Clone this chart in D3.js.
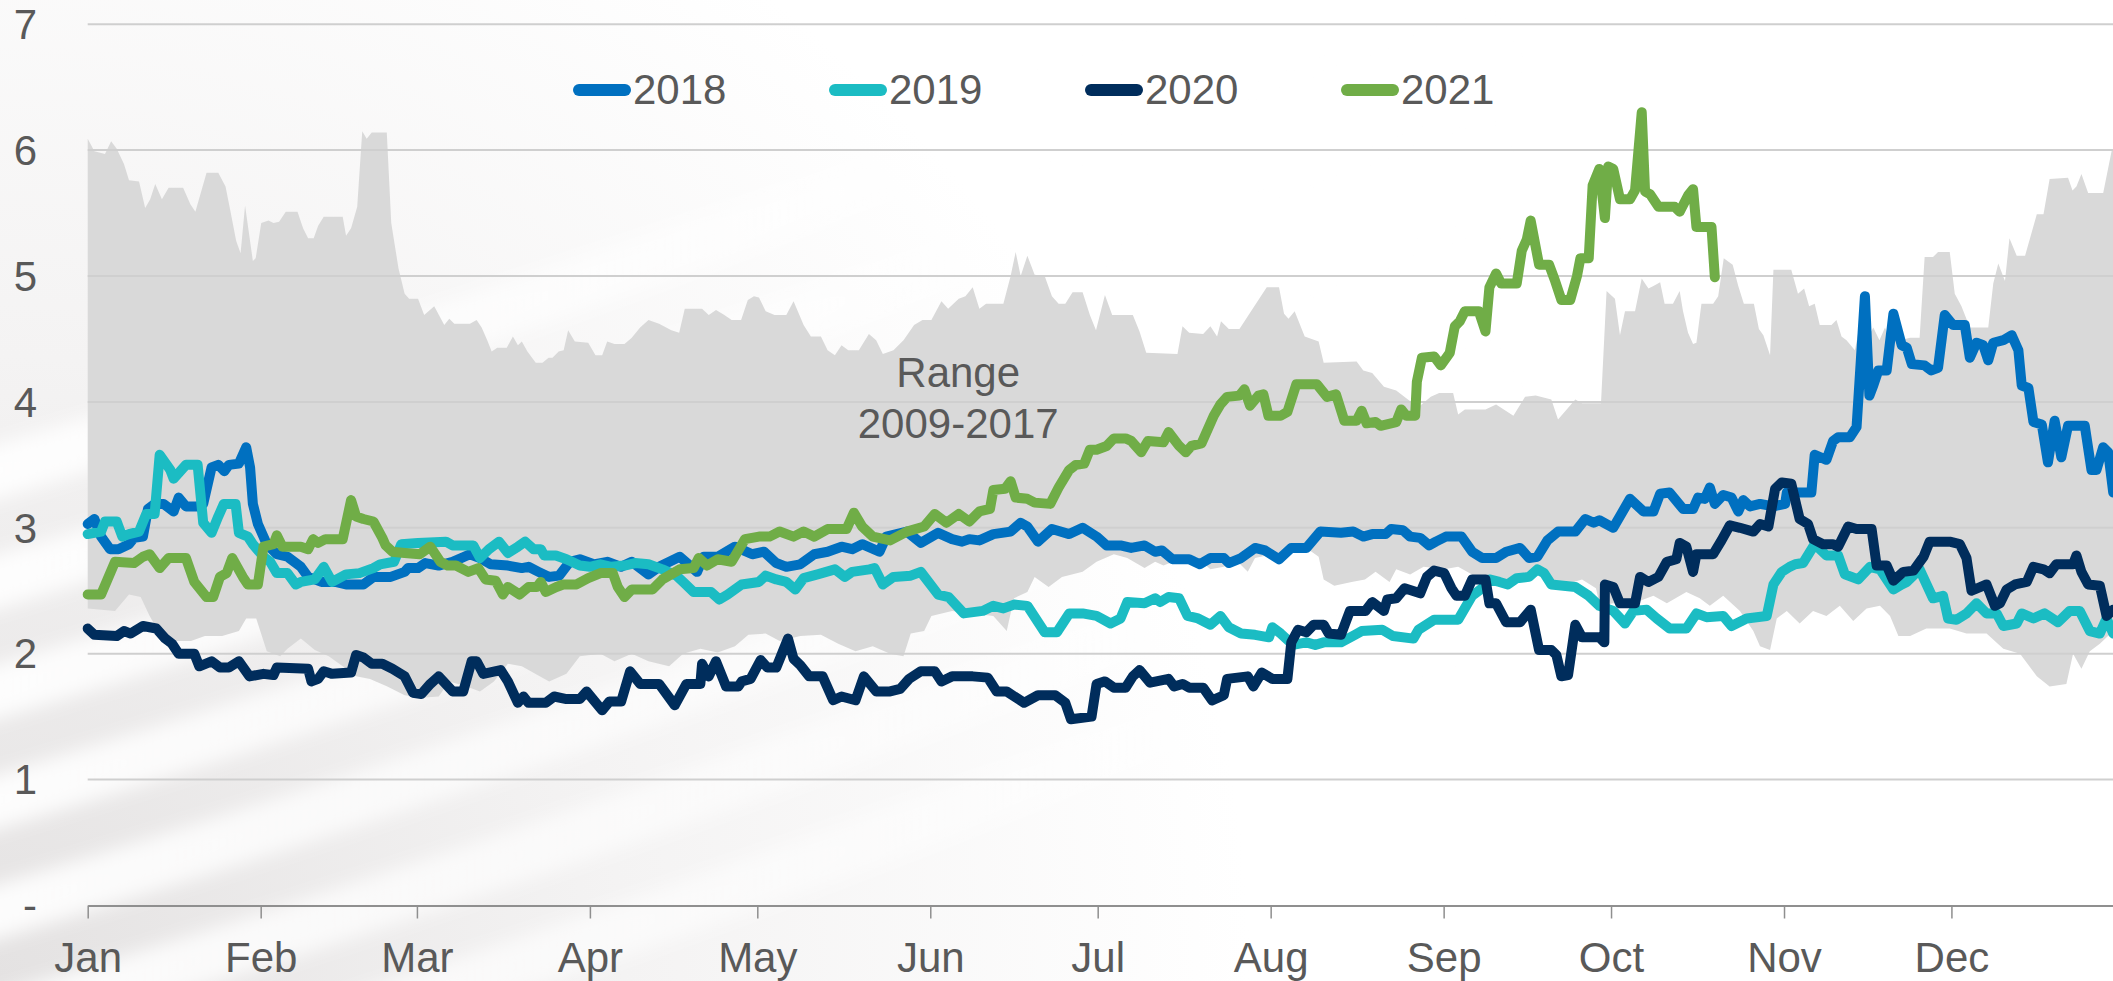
<!DOCTYPE html>
<html>
<head>
<meta charset="utf-8">
<script src="https://cdn.jsdelivr.net/npm/d3@7"></script>
<style>
  body { margin: 0; background: #fff; }
  svg { display: block; font-family: "Liberation Sans", Arial, sans-serif; }
  .tick text { fill: #595959; font-size: 42px; }
</style>
</head>
<body>
<div id="chart"></div>
<script>
// ---- data: [day of year, value] ----
const years = ["2018", "2019", "2020", "2021"];
const colors = ["#0070c0", "#1bbcc3", "#002d5c", "#70ad47"];
const yTickLabels = ["-", "1", "2", "3", "4", "5", "6", "7"];
const monthStarts = [0, 31, 59, 90, 120, 151, 181, 212, 243, 273, 304, 334];
const rangeLabel = ["Range", "2009-2017"];

const rangeHigh = [[0,6.09],[1.2,5.99],[3.1,5.97],[4.2,6.07],[5.2,6.01],[6.5,5.89],[7.4,5.76],[9.2,5.75],[10.3,5.54],[11.2,5.61],[12.1,5.73],[13.3,5.61],[14.5,5.70],[17.1,5.70],[18.4,5.57],[19.3,5.51],[21.3,5.82],[23.4,5.82],[24.7,5.71],[25.6,5.51],[26.6,5.28],[27.4,5.18],[28.2,5.56],[29.6,5.12],[30.1,5.14],[31.1,5.42],[32.4,5.44],[33.3,5.42],[34.3,5.43],[35.5,5.51],[37.6,5.51],[38.6,5.38],[39.5,5.30],[40.5,5.30],[41.3,5.40],[42.3,5.47],[45.7,5.47],[46.3,5.32],[47.2,5.38],[48.3,5.55],[49.2,6.15],[50.0,6.09],[50.9,6.14],[53.6,6.14],[54.4,5.42],[55.7,5.06],[56.8,4.86],[57.6,4.82],[59.2,4.82],[60.3,4.69],[62.1,4.76],[63.9,4.61],[64.8,4.66],[65.7,4.62],[68.5,4.62],[69.7,4.65],[70.6,4.59],[71.6,4.49],[72.4,4.40],[73.4,4.43],[75.1,4.43],[76.2,4.52],[77.1,4.45],[77.8,4.48],[78.8,4.40],[80.3,4.31],[81.5,4.31],[82.6,4.35],[83.3,4.35],[84.4,4.40],[85.3,4.41],[86.1,4.57],[87.3,4.48],
  [89.7,4.47],[91,4.37],[92.2,4.37],[93.1,4.48],[94.4,4.46],[96.2,4.46],[97.5,4.51],[99,4.59],[100.5,4.65],[102.4,4.62],[104.6,4.57],[106,4.55],[107,4.74],[110.1,4.74],[111.3,4.69],[112.6,4.73],[114.1,4.69],[115.4,4.65],[117.1,4.65],[118.3,4.81],[119.4,4.84],[120.3,4.83],[121.5,4.72],[123.1,4.69],[125.2,4.69],[126.5,4.80],[128.3,4.61],[129.6,4.52],[131.4,4.52],[132.6,4.41],[133.9,4.37],[135.1,4.45],[136.3,4.41],[138.2,4.41],[140,4.54],[141.3,4.49],[142.5,4.38],[144.4,4.41],[146.2,4.49],[148.1,4.61],[149.6,4.65],[151.2,4.65],[153,4.80],[154.2,4.74],[156.1,4.82],[157.3,4.84],[158.6,4.91],[159.8,4.74],[161,4.78],[164.1,4.78],[165.4,5.00],[166.3,5.19],[167.2,5.00],[168.4,5.16],[169.7,5.01],[171.5,5.00],[172.8,4.84],[174,4.78],[175.2,4.78],[176.5,4.87],[178.3,4.87],[179.6,4.69],[180.7,4.57],
  [182.3,4.85],[183.6,4.69],[187.3,4.69],[188.5,4.56],[189.7,4.39],[195.3,4.38],[196.2,4.60],[197.4,4.55],[199.9,4.54],[201.2,4.60],[202.4,4.52],[203.1,4.64],[204.5,4.58],[206.4,4.58],[207.9,4.68],[209.8,4.81],[211.3,4.91],[213.5,4.91],[214.4,4.70],[215.2,4.66],[216.3,4.72],[218.1,4.52],[220.6,4.48],[221.5,4.31],[227.4,4.32],[228.6,4.25],[230.2,4.23],[232.3,4.12],[234.5,4.09],[236.6,4.02],[238.5,3.96],[240.7,4.04],[242.2,4.07],[244.7,4.07],[245.6,3.90],[246.8,3.94],[250.5,3.94],[252.4,3.98],[255.5,3.89],[257.6,4.04],[259.5,4.05],[262.3,4.02],[263.5,3.86],[266.6,4.02],[267.8,3.99],[271.2,3.99],
  [272.2,4.88],[273.7,4.82],[274.6,4.53],[275.5,4.72],[277.3,4.72],[278.5,4.98],[279.7,4.90],[280.6,4.92],[281.8,4.95],[282.6,4.78],[284.1,4.78],[285.3,4.88],[285.9,4.72],[286.8,4.55],[287.7,4.46],[288.3,4.47],[289.2,4.78],[291.3,4.78],[292.2,4.84],[293.2,5.14],[294.8,5.09],[295.8,4.92],[296.8,4.78],[298.6,4.78],[299.5,4.58],[300.3,4.53],[301.5,4.37],[302.1,5.05],[305.3,5.05],[306.5,4.86],[307.6,4.90],[308.5,4.76],[309.5,4.78],[310.4,4.61],[312.5,4.61],[313.4,4.65],[314.3,4.52],[315.2,4.49],[316.7,4.41],[317.6,4.61],[318.8,4.49],[320,4.59],[321.1,4.49],[322.1,4.59],[323,4.49],[324.8,4.49],[326.6,4.51],[328.3,4.51],[329.2,5.15],[330.7,5.15],[331.6,5.19],[333.7,5.19],[334.6,4.86],[335.8,4.76],[337.3,4.59],[340.6,4.59],[341.5,4.94],[342.4,5.10],[343.6,4.96],[344.4,5.30],[345.7,5.16],[347.2,5.16],[349.3,5.49],[350.5,5.49],[351.6,5.77],[354.9,5.78],[355.7,5.68],[356.4,5.71],[357.3,5.81],[358.5,5.66],[361.2,5.66],[362.7,5.99],[364,6.05]];

const rangeLow = [[0,2.36],[4.9,2.34],[7.4,2.47],[9.5,2.45],[11.1,2.30],[12.9,2.16],[15.4,2.10],[18.5,2.10],[21,2.14],[24.1,2.14],[27.1,2.18],[28.4,2.28],[30.2,2.28],[32.1,2.02],[34.5,1.98],[35.8,2.04],[38.2,2.12],[40.7,2.03],[43.2,1.98],[45.7,1.90],[48.1,1.82],[50.6,1.80],[53.7,1.74],[56.8,1.67],[59.8,1.65],[62.9,1.66],[64.8,1.78],[67.9,1.74],[70.3,1.70],[72.8,1.78],[75.3,1.92],[77.8,1.90],[80.2,1.84],[82.7,1.78],[85.8,1.84],[88.2,1.98],
  [91.9,2.0],[94.4,1.94],[97.5,2.0],[100.5,1.94],[104.2,1.90],[106.7,2.0],[109.8,2.04],[112.9,2.01],[116,2.06],[118.4,2.15],[121.5,2.16],[124,2.10],[127.7,2.14],[131.4,2.15],[134.5,2.08],[137.6,2.02],[140.7,2.06],[143.8,2.0],[146.2,1.98],[147.5,2.16],[149.9,2.18],[151.2,2.30],[154.9,2.34],[158.6,2.32],[162.3,2.30],[164.7,2.18],[166,2.44],[168.4,2.49],[169.7,2.61],[172.2,2.53],[174.6,2.61],[178.3,2.65],[180.8,2.73],
  [183.9,2.79],[186.3,2.76],[189.4,2.68],[191.3,2.73],[192.8,2.70],[195.6,2.75],[198.7,2.77],[201.2,2.67],[203.6,2.69],[206.1,2.73],[207.9,2.65],[209.2,2.76],[212.3,2.79],[216,2.81],[218.4,2.84],[220.6,2.77],[221.5,2.59],[223.4,2.54],[226.5,2.57],[228.9,2.59],[230.8,2.65],[233.3,2.57],[234.5,2.67],[237,2.63],[239.4,2.69],[243.1,2.67],[245.6,2.69],[248.1,2.63],[249.9,2.57],[255.5,2.59],[259.2,2.65],[261.6,2.59],[264.1,2.54],[267.8,2.59],[270.3,2.52],
  [271,2.38],[273.4,2.40],[275.8,2.38],[278.2,2.42],[280.6,2.46],[283,2.40],[286.5,2.49],[288.9,2.44],[290.7,2.38],[293.1,2.46],[296.1,2.34],[298.5,2.18],[299.7,2.06],[301.5,2.03],[302.7,2.28],[304.5,2.34],[306.8,2.24],[309.2,2.34],[311.6,2.30],[314,2.38],[316.4,2.26],[318.8,2.36],[321.2,2.38],[323,2.30],[324.5,2.14],[326.6,2.14],[329.5,2.20],[333.7,2.20],[336.7,2.16],[340.3,2.16],[343.3,2.04],[346.3,2.0],[349.3,1.82],[351.6,1.74],[354.6,1.76],[355.8,2.0],[357.3,1.88],[358.8,2.02],[360.6,2.08],[363,2.18],[364,2.2]];

const s2018 = [[0,3.03],[1.2,3.07],[2.4,2.93],[4,2.83],[5.5,2.83],[7.4,2.87],[8.3,2.92],[9.9,2.93],[10.8,3.15],[12,3.19],[13.6,3.19],[15.4,3.13],[16.3,3.24],[17.6,3.17],[19.7,3.17],[20.7,3.19],[22.2,3.48],[23.4,3.50],[24.5,3.45],[25.3,3.50],[27.1,3.51],[28.4,3.64],[29.1,3.48],[29.6,3.19],[30.5,3.03],[32.1,2.87],[33.9,2.79],[35.8,2.77],[38.2,2.69],[39.5,2.61],[41.9,2.57],[44.4,2.57],[46.3,2.55],[49.4,2.55],[51.2,2.61],[54.3,2.61],[56.8,2.65],[57.4,2.68],[59.2,2.68],[60.5,2.72],[62.9,2.70],[65.4,2.73],[68.5,2.79],[70.3,2.76],[72.2,2.71],[75.3,2.70],[77.8,2.68],[79,2.69],[80.8,2.65],[82.7,2.61],[84.5,2.62],[86.4,2.73],[88.2,2.75],
  [90.7,2.71],[93.1,2.73],[95.6,2.69],[97.5,2.73],[100.5,2.63],[102.4,2.69],[106.1,2.77],[109.2,2.65],[110.4,2.77],[112.9,2.77],[116,2.85],[119.1,2.79],[121.2,2.81],[123.4,2.72],[125.2,2.69],[127.7,2.71],[130.2,2.79],[132.6,2.81],[135.1,2.85],[137,2.83],[138.8,2.87],[141.9,2.81],[143.1,2.93],[146.8,2.97],[149.3,2.88],[152.4,2.96],[154.9,2.91],[156.7,2.89],[158,2.91],[159.8,2.90],[162.3,2.95],[165.4,2.97],[167.2,3.04],[168.4,3.01],[170.3,2.89],[172.8,2.99],[175.9,2.95],[178.3,3.0],[180.8,2.93],
  [182.6,2.86],[185.1,2.86],[187,2.84],[189.4,2.86],[191.3,2.81],[192.5,2.82],[194.4,2.75],[197.4,2.75],[199.3,2.71],[201.2,2.76],[203.6,2.76],[204.5,2.72],[206.7,2.76],[209.2,2.84],[211,2.82],[213.5,2.75],[215.7,2.84],[218.4,2.84],[220.9,2.97],[224.6,2.96],[226.8,2.97],[228.6,2.93],[230.2,2.95],[232.6,2.95],[233.6,2.99],[235.7,2.98],[237,2.93],[238.8,2.92],[240.4,2.86],[241.6,2.89],[243.4,2.93],[246.2,2.93],[248.1,2.81],[249.9,2.76],[252.4,2.76],[254.2,2.81],[256.7,2.84],[258.3,2.76],[259.8,2.77],[261.6,2.90],[263.5,2.97],[266.6,2.97],[268.4,3.07],[269.9,3.04],[270.9,3.06],
  [273.4,3.0],[276.4,3.23],[278.8,3.13],[280.6,3.13],[281.8,3.27],[283.5,3.28],[285.9,3.15],[287.7,3.15],[288.6,3.24],[289.8,3.23],[290.7,3.32],[291.6,3.19],[293.1,3.26],[294.6,3.24],[295.8,3.13],[296.7,3.22],[297.9,3.17],[299.7,3.19],[302.1,3.17],[304.2,3.19],[304.5,3.28],[308.9,3.28],[309.5,3.58],[311.6,3.54],[312.8,3.69],[313.7,3.72],[315.8,3.72],[317,3.80],[318.5,4.84],[319.3,4.05],[320,4.13],[320.9,4.25],[322.4,4.25],[323.6,4.70],[325.1,4.45],[326,4.43],[326.9,4.30],[329.2,4.29],[330.4,4.25],[331.6,4.27],[332.8,4.69],[334.3,4.61],[336.4,4.61],[337.3,4.35],[338.5,4.47],[339.7,4.45],[340.6,4.33],[341.5,4.47],[343.3,4.49],[344.8,4.53],[346,4.41],[346.6,4.13],[347.8,4.11],[348.7,3.84],[350.2,3.82],[351.3,3.52],[352.5,3.85],[353.7,3.56],[354.9,3.81],[357.9,3.81],[359.1,3.46],[360,3.46],[361.2,3.64],[362.1,3.60],[363,3.28]];

const s2019 = [[0,2.95],[2.4,2.97],[3.1,3.05],[5.2,3.05],[6.2,2.93],[7.4,2.95],[9.2,2.97],[10.5,3.11],[12,3.11],[12.9,3.58],[14.8,3.46],[15.4,3.39],[17.6,3.50],[19.7,3.50],[20.7,3.04],[22.2,2.96],[23.4,3.09],[24.4,3.19],[26.5,3.19],[27.1,2.96],[28.7,2.93],[29.6,2.87],[31.5,2.77],[32.7,2.73],[33.9,2.64],[35.8,2.64],[37.3,2.55],[38.2,2.57],[40.7,2.59],[42.3,2.69],[43.8,2.57],[46.3,2.63],[48.7,2.64],[51.2,2.68],[52.4,2.71],[54.9,2.73],[56.2,2.87],[59.2,2.88],[64.2,2.89],[65.4,2.86],[69.1,2.86],[70.3,2.76],[71.9,2.83],[73.7,2.89],[75.3,2.80],[77.1,2.85],[78.4,2.89],[79.9,2.83],[81.2,2.83],[81.8,2.78],[83.9,2.78],[85.8,2.75],[88.2,2.70],
  [90,2.69],[91.9,2.71],[93.8,2.69],[96.2,2.70],[98.1,2.72],[100.5,2.71],[103,2.67],[105.5,2.62],[106.7,2.57],[108.6,2.49],[111.7,2.49],[113.2,2.43],[114.7,2.47],[117.2,2.55],[120.3,2.57],[121.5,2.62],[123.4,2.59],[125.2,2.57],[126.8,2.51],[128.3,2.60],[130.8,2.63],[133.9,2.67],[135.7,2.61],[137,2.65],[140.1,2.67],[141,2.68],[142.5,2.55],[144.4,2.61],[147.5,2.62],[149.3,2.65],[152.4,2.47],[154.3,2.45],[157,2.32],[160.4,2.34],[162.3,2.38],[164.1,2.36],[166,2.39],[168.4,2.38],[171.5,2.17],[173.7,2.17],[175.9,2.32],[178.3,2.32],[180.8,2.30],
  [183.3,2.24],[185.1,2.28],[186.3,2.41],[189.4,2.40],[191.3,2.44],[192.2,2.41],[193.7,2.45],[195.6,2.44],[197.1,2.30],[199,2.28],[201.2,2.23],[203,2.30],[204.5,2.21],[206.7,2.16],[209.2,2.15],[211.7,2.13],[212.3,2.21],[213.8,2.16],[216,2.07],[218.4,2.09],[220,2.07],[221.5,2.09],[224.6,2.09],[227.1,2.15],[228.3,2.18],[232,2.19],[233.9,2.14],[237.6,2.12],[238.5,2.19],[241.3,2.27],[245.6,2.27],[248.1,2.46],[249.9,2.52],[251.2,2.59],[253,2.57],[254.5,2.55],[256.1,2.60],[258.3,2.61],[259.8,2.67],[261,2.64],[262.3,2.55],[266.6,2.53],[269,2.46],[270.9,2.38],
  [273.4,2.34],[275.5,2.24],[277,2.34],[279.4,2.35],[281.2,2.28],[283.5,2.20],[286.5,2.20],[288.3,2.32],[290.1,2.29],[293.1,2.30],[294.6,2.22],[297.3,2.28],[300.9,2.30],[302.1,2.55],[303.6,2.65],[305,2.69],[306,2.71],[307.4,2.72],[309.5,2.87],[311.6,2.78],[313.7,2.78],[314.9,2.63],[317.3,2.59],[319.4,2.69],[321.2,2.67],[323.6,2.51],[325.1,2.55],[326,2.57],[328.3,2.67],[330.7,2.44],[332.5,2.46],[333.4,2.28],[334.9,2.27],[336.7,2.32],[338.5,2.40],[340.3,2.32],[342.1,2.32],[343.3,2.22],[345.7,2.24],[346.6,2.32],[348.7,2.28],[350.7,2.32],[353.1,2.25],[355.2,2.34],[357,2.34],[358.8,2.18],[360.6,2.16],[361.8,2.28],[363,2.16]];

const s2020 = [[0,2.20],[1.2,2.15],[5.2,2.14],[6.5,2.18],[7.7,2.16],[9.9,2.22],[12.3,2.20],[13.9,2.12],[15.1,2.08],[16.3,2.0],[19.1,2.0],[20,1.90],[22.2,1.94],[23.7,1.89],[25.3,1.89],[27.1,1.94],[29,1.82],[31.5,1.84],[33.3,1.83],[33.9,1.89],[39.5,1.88],[40.1,1.78],[41.3,1.80],[42.3,1.86],[43.8,1.84],[47.2,1.85],[48.1,1.99],[49.4,1.97],[50.9,1.92],[52.8,1.92],[54.6,1.88],[56.8,1.82],[58.3,1.69],[59.8,1.68],[61.4,1.76],[62.9,1.82],[65.4,1.70],[67.3,1.70],[68.8,1.94],[69.7,1.94],[70.9,1.84],[74,1.87],[75.3,1.78],[77.1,1.61],[78.1,1.66],[79,1.61],[82.1,1.61],[83.6,1.66],[85.8,1.64],[88.2,1.64],
  [89.4,1.70],[92.2,1.55],[93.5,1.62],[95.6,1.62],[97.2,1.86],[99,1.76],[102.4,1.76],[105.2,1.59],[107.3,1.76],[109.8,1.76],[110.1,1.92],[111.3,1.82],[112.6,1.94],[114.4,1.74],[116.6,1.74],[117.2,1.78],[118.8,1.80],[120.6,1.95],[121.8,1.89],[123.4,1.89],[125.5,2.12],[126.5,1.96],[127.7,1.91],[129.3,1.82],[131.7,1.82],[133.6,1.63],[135.1,1.66],[137.6,1.63],[139.1,1.82],[141.3,1.70],[143.8,1.70],[145.6,1.72],[147.2,1.80],[149.3,1.86],[151.8,1.86],[153,1.78],[154.9,1.82],[158.6,1.82],[161.3,1.81],[162.9,1.70],[164.7,1.70],[167.8,1.61],[170.3,1.67],[173.4,1.67],[175.2,1.61],[176.2,1.48],[179.9,1.50],[180.8,1.76],[182.3,1.78],
  [183.9,1.73],[186,1.73],[187.3,1.82],[188.5,1.87],[190.4,1.77],[193.7,1.80],[194.7,1.74],[196.2,1.76],[197.4,1.73],[199.9,1.73],[201.5,1.63],[203.6,1.67],[204.2,1.80],[207.9,1.82],[208.9,1.74],[210.4,1.85],[212.3,1.80],[215,1.80],[215.7,2.09],[216.9,2.19],[218.4,2.17],[219.7,2.23],[221.5,2.23],[222.4,2.16],[224.6,2.15],[226.2,2.34],[229,2.34],[230.2,2.41],[232.3,2.34],[232.9,2.43],[234.5,2.44],[236,2.52],[238.8,2.48],[240,2.61],[241.3,2.66],[243.1,2.64],[244.4,2.52],[245.3,2.46],[246.8,2.46],[248.1,2.59],[250.5,2.59],[251.2,2.40],[252.4,2.40],[254.2,2.25],[256.7,2.25],[258.6,2.35],[260.1,2.03],[262.3,2.03],[263.2,1.99],[264.1,1.82],[265.3,1.83],[266.6,2.23],[267.8,2.13],[270.9,2.13],[271.8,2.09],
  [271.9,2.55],[273.4,2.53],[274.6,2.40],[277.3,2.40],[278.2,2.61],[279.7,2.57],[281.5,2.61],[283,2.73],[284.7,2.75],[285.3,2.88],[286.5,2.85],[287.7,2.65],[288.3,2.79],[291.3,2.79],[292.8,2.90],[294.3,3.02],[296.1,3.0],[298.5,2.97],[299.7,3.03],[301.2,3.01],[302.4,3.31],[303.6,3.36],[305.3,3.35],[306.8,3.07],[308.3,3.03],[309.2,2.91],[311,2.87],[312.8,2.87],[313.7,2.85],[315.5,3.01],[317,2.99],[319.7,2.99],[320.6,2.70],[322.4,2.70],[323.6,2.58],[325.4,2.65],[327.2,2.66],[329,2.77],[330.1,2.89],[333.7,2.89],[335.5,2.87],[336.7,2.76],[337.6,2.50],[340.3,2.55],[341.8,2.38],[342.7,2.40],[343.9,2.51],[345.4,2.55],[347.5,2.57],[348.7,2.69],[350.5,2.67],[351.6,2.64],[352.8,2.71],[355.8,2.71],[356.4,2.78],[357.3,2.65],[358.5,2.55],[360.6,2.54],[361.8,2.30],[363,2.35]];

const s2021 = [[0,2.47],[2.4,2.47],[4.9,2.73],[8.3,2.72],[9.9,2.77],[11.1,2.79],[12.9,2.68],[14.5,2.76],[17.6,2.76],[19.1,2.57],[21.3,2.45],[22.5,2.45],[23.7,2.61],[24.9,2.64],[25.9,2.76],[27.8,2.61],[28.7,2.55],[30.5,2.55],[31.5,2.85],[33.3,2.87],[33.9,2.94],[34.9,2.85],[38.2,2.85],[39.5,2.83],[40.4,2.91],[41.3,2.88],[42.6,2.91],[45.7,2.91],[47.2,3.22],[48.1,3.09],[49.4,3.07],[51.2,3.05],[52.8,2.92],[53.4,2.86],[54.6,2.81],[56.8,2.80],[59.5,2.79],[61.4,2.85],[63.2,2.73],[64.5,2.70],[66,2.70],[68.2,2.65],[70,2.68],[71.3,2.59],[73.1,2.58],[74.4,2.47],[75.3,2.53],[77.4,2.47],[79,2.53],[80.5,2.53],[81.2,2.57],[82.1,2.49],[84,2.53],[85.2,2.55],[87.6,2.55],
  [89.7,2.60],[91.9,2.64],[94.1,2.64],[95,2.53],[96.2,2.45],[97.5,2.51],[101.2,2.51],[103,2.59],[106.1,2.67],[108.6,2.68],[109.5,2.76],[111,2.70],[112.9,2.75],[115.4,2.73],[117.8,2.91],[120.3,2.93],[122.2,2.93],[124,2.97],[126.5,2.93],[128.3,2.97],[130.2,2.93],[132.6,2.99],[136,2.99],[137.3,3.12],[138.8,3.01],[140.7,2.93],[143.8,2.90],[146.8,2.97],[149.9,3.01],[151.8,3.11],[153.9,3.04],[156.1,3.11],[158,3.05],[159.8,3.13],[161.7,3.15],[162.3,3.30],[164.4,3.31],[165.4,3.37],[166.3,3.24],[168.4,3.23],[169.7,3.20],[172.5,3.19],[174,3.32],[175.9,3.46],[177.1,3.50],[178.6,3.51],[179.6,3.62],[180.8,3.62],
  [182.6,3.65],[183.9,3.71],[186,3.71],[187,3.69],[188.8,3.60],[190,3.69],[192.8,3.68],[193.7,3.76],[195.6,3.65],[196.8,3.60],[197.8,3.65],[199.6,3.67],[201.8,3.89],[203,3.98],[204.2,4.04],[206.4,4.05],[207.3,4.10],[208.3,3.97],[209.8,4.05],[210.7,4.06],[211.6,3.89],[213.8,3.89],[215,3.92],[216.6,4.14],[220.3,4.14],[222.1,4.04],[223.7,4.06],[225.2,3.85],[227.4,3.85],[228.3,3.93],[229.2,3.83],[230.8,3.84],[231.7,3.81],[234.5,3.84],[235.4,3.94],[236.3,3.89],[237.9,3.89],[238.2,4.16],[239.1,4.35],[241.3,4.36],[242.5,4.29],[244.1,4.39],[245,4.60],[245.9,4.64],[246.8,4.72],[249.3,4.72],[250.5,4.56],[251.2,4.91],[252.4,5.02],[253.3,4.94],[256.1,4.94],[257,5.20],[257.9,5.29],[258.6,5.44],[260.1,5.09],[261.9,5.09],[262.9,4.97],[264.1,4.81],[265.7,4.81],[266.9,5.0],[267.5,5.14],[269,5.14],[269.7,5.72],[270.9,5.85],
  [271.9,5.46],[272.5,5.87],[273.4,5.85],[274.6,5.61],[276.4,5.61],[277.3,5.68],[278.5,6.30],[279.1,5.67],[280,5.65],[281.5,5.55],[284.4,5.55],[285.3,5.51],[286.8,5.64],[287.7,5.69],[288.3,5.39],[291,5.39],[291.6,4.99]];

const series = [s2018, s2019, s2020, s2021];

// ---- layout ----
const width = 2113;
const height = 981;
const textColor = "#595959";

const svg = d3.select("#chart").append("svg")
    .attr("width", width)
    .attr("height", height);

const t0 = new Date(2021, 0, 1);
const toDate = function(d) { return new Date(t0.getTime() + d * 864e5); };

const xScale = d3.scaleTime()
    .domain([t0, new Date(2022, 0, 1)])
    .range([87.7, 2124.4]);
const yScale = d3.scaleLinear()
    .domain([0, 7])
    .range([905.5, 24.2]);

// background: soft silk-like streaks
const defs = svg.append("defs");
const bgGrad = defs.append("radialGradient")
    .attr("id", "bgGrad")
    .attr("gradientUnits", "userSpaceOnUse")
    .attr("cx", 0).attr("cy", 981).attr("r", 1250);
bgGrad.append("stop").attr("offset", "0%").attr("stop-color", "#e4e2e2");
bgGrad.append("stop").attr("offset", "50%").attr("stop-color", "#f4f3f3");
bgGrad.append("stop").attr("offset", "100%").attr("stop-color", "#ffffff");

const streakGrad = defs.append("linearGradient")
    .attr("id", "streakGrad")
    .attr("x1", "0%").attr("x2", "100%");
streakGrad.append("stop").attr("offset", "0%").attr("stop-color", "#ffffff").attr("stop-opacity", 1);
streakGrad.append("stop").attr("offset", "100%").attr("stop-color", "#ffffff").attr("stop-opacity", 0.2);

defs.append("filter").attr("id", "blur")
    .attr("x", "-20%").attr("y", "-50%").attr("width", "140%").attr("height", "200%")
  .append("feGaussianBlur").attr("stdDeviation", 9);

svg.append("rect")
    .attr("width", width).attr("height", height)
    .attr("fill", "url(#bgGrad)");

const streakStarts = [500, 610, 720, 830, 940, 1050, 1160];
svg.append("g")
    .attr("filter", "url(#blur)")
  .selectAll("path")
    .data(streakStarts)
    .enter()
  .append("path")
    .attr("d", function(d) { return "M-100," + d + " Q 600," + (d - 200) + " 1500," + (d - 560); })
    .attr("fill", "none")
    .attr("stroke", "url(#streakGrad)")
    .attr("stroke-width", 52)
    .attr("opacity", 0.95);

// range band 2009-2017
const pointLine = d3.line()
    .x(function(d) { return xScale(toDate(d[0])); })
    .y(function(d) { return yScale(d[1]); });

svg.append("path")
    .attr("d", pointLine(rangeHigh.concat(rangeLow.slice().reverse())) + "Z")
    .attr("fill", "#d9d9d9");

// gridlines
svg.append("g")
  .selectAll("line")
    .data(d3.range(1, 8))
    .enter()
  .append("line")
    .attr("x1", xScale(t0))
    .attr("x2", width)
    .attr("y1", function(d) { return yScale(d); })
    .attr("y2", function(d) { return yScale(d); })
    .attr("stroke", "#cfcfcf")
    .attr("stroke-width", 2);

// y labels
svg.append("g")
  .selectAll("text")
    .data(yTickLabels)
    .enter()
  .append("text")
    .attr("x", 37)
    .attr("y", function(d, i) { return yScale(i); })
    .attr("dy", "0.35em")
    .attr("text-anchor", "end")
    .attr("font-size", 42)
    .attr("fill", textColor)
    .text(function(d) { return d; });

// x axis
const xaxis = d3.axisBottom(xScale)
    .tickValues(monthStarts.map(toDate))
    .tickFormat(d3.timeFormat("%b"))
    .tickSize(13)
    .tickSizeOuter(0)
    .tickPadding(24);

const gx = svg.append("g")
    .attr("transform", "translate(0," + yScale(0) + ")")
    .call(xaxis);
gx.select(".domain").attr("stroke", "#8f8f8f").attr("stroke-width", 2);
gx.selectAll(".tick line").attr("stroke", "#8f8f8f").attr("stroke-width", 1.5);
gx.selectAll(".tick text").attr("font-family", null);

// range label
svg.append("g")
  .selectAll("text")
    .data(rangeLabel)
    .enter()
  .append("text")
    .attr("x", xScale(toDate(156)))
    .attr("y", function(d, i) { return yScale(4.12 - i * 0.41); })
    .attr("text-anchor", "middle")
    .attr("font-size", 42)
    .attr("fill", textColor)
    .text(function(d) { return d; });

// series lines
svg.append("g")
  .selectAll("path")
    .data(series)
    .enter()
  .append("path")
    .attr("d", function(d) { return pointLine(d); })
    .attr("fill", "none")
    .attr("stroke", function(d, i) { return colors[i]; })
    .attr("stroke-width", 10)
    .attr("stroke-linejoin", "round")
    .attr("stroke-linecap", "round");

// legend
const legend = svg.append("g")
  .selectAll("g")
    .data(years)
    .enter()
  .append("g")
    .attr("transform", function(d, i) { return "translate(" + (573 + i * 256) + ",0)"; });

legend.append("line")
    .attr("x1", 6).attr("x2", 52)
    .attr("y1", 90).attr("y2", 90)
    .attr("stroke", function(d, i) { return colors[i]; })
    .attr("stroke-width", 12)
    .attr("stroke-linecap", "round");

legend.append("text")
    .attr("x", 60)
    .attr("y", 104)
    .attr("font-size", 42)
    .attr("fill", textColor)
    .text(function(d) { return d; });
</script>
</body>
</html>
